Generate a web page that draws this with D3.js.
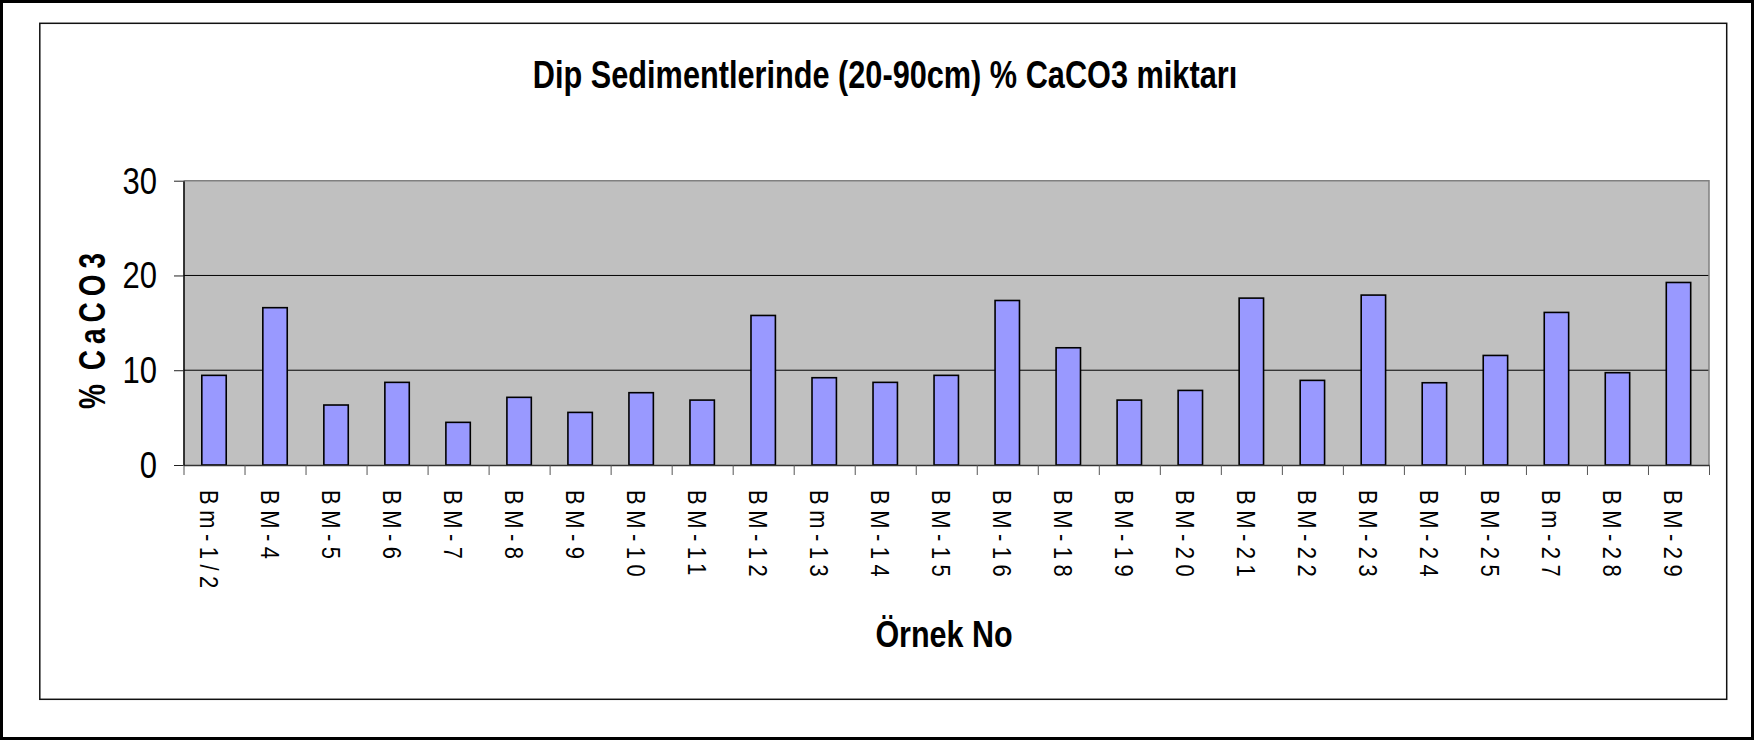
<!DOCTYPE html>
<html>
<head>
<meta charset="utf-8">
<script src="https://cdn.jsdelivr.net/npm/d3@7"></script>
<style>
  body { margin: 0; background: #fff; }
  svg { display: block; font-family: "Liberation Sans", Arial, sans-serif; }
</style>
</head>
<body>
<div id="chart"></div>
<script>
// Data
var samples = ["Bm-1/2", "BM-4", "BM-5", "BM-6", "BM-7", "BM-8", "BM-9", "BM-10", "BM-11", "BM-12",
  "Bm-13", "BM-14", "BM-15", "BM-16", "BM-18", "BM-19", "BM-20", "BM-21", "BM-22", "BM-23",
  "BM-24", "BM-25", "Bm-27", "BM-28", "BM-29"];
var caco3 = [9.46, 16.6, 6.33, 8.72, 4.5, 7.14, 5.55, 7.63, 6.85, 15.78,
  9.21, 8.72, 9.46, 17.36, 12.37, 6.85, 7.87, 17.61, 8.93, 17.93,
  8.68, 11.56, 16.1, 9.74, 19.26];
var yTicks = [0, 10, 20, 30];
var chartTitle = "Dip Sedimentlerinde (20-90cm) % CaCO3 miktarı";
var xTitle = "Örnek No";
var yTitle = "% CaCO3";

// Set up the canvas
var svgWidth = 1754;
var svgHeight = 740;

var plot = { left: 183.5, right: 1709, top: 180.7, bottom: 465 };

var svg = d3.select("#chart")
  .append("svg")
  .attr("width", svgWidth)
  .attr("height", svgHeight);

// outer black border and inner chart frame
svg.append("rect")
  .attr("x", 1.5).attr("y", 1.5)
  .attr("width", svgWidth - 3).attr("height", svgHeight - 3)
  .attr("fill", "#fff")
  .attr("stroke", "#000")
  .attr("stroke-width", 3);

svg.append("rect")
  .attr("x", 39.8).attr("y", 23.3)
  .attr("width", 1726.7 - 39.8).attr("height", 699.3 - 23.3)
  .attr("fill", "none")
  .attr("stroke", "#111")
  .attr("stroke-width", 1.5);

// scales
var xBand = d3.scaleBand()
  .domain(samples)
  .range([plot.left, plot.right])
  .paddingInner(0.6)
  .paddingOuter(0.3);

var xSlots = d3.scaleLinear()
  .domain([0, samples.length])
  .range([plot.left, plot.right]);

var yLinearScale = d3.scaleLinear()
  .domain([0, 30])
  .range([plot.bottom, plot.top]);

// plot area background
svg.append("rect")
  .attr("x", plot.left).attr("y", plot.top)
  .attr("width", plot.right - plot.left)
  .attr("height", plot.bottom - plot.top)
  .attr("fill", "#c0c0c0");

// gridlines
svg.append("g")
  .selectAll("line")
  .data(yTicks.filter(d => d > 0 && d < 30))
  .enter()
  .append("line")
  .attr("x1", plot.left).attr("x2", plot.right)
  .attr("y1", d => yLinearScale(d)).attr("y2", d => yLinearScale(d))
  .attr("stroke", "#000")
  .attr("stroke-width", 1);

// plot border top and right (gray)
svg.append("path")
  .attr("d", `M${plot.left},${yLinearScale(30)}H${plot.right}V${plot.bottom}`)
  .attr("fill", "none")
  .attr("stroke", "#808080")
  .attr("stroke-width", 1.5);

// bars
svg.append("g")
  .selectAll("rect")
  .data(caco3)
  .enter()
  .append("rect")
  .attr("x", (d, i) => xBand(samples[i]))
  .attr("y", d => yLinearScale(d))
  .attr("width", xBand.bandwidth())
  .attr("height", d => yLinearScale(0) - yLinearScale(d))
  .attr("fill", "#9999ff")
  .attr("stroke", "#000")
  .attr("stroke-width", 1.6);

// x axis: ticks at category boundaries
var bottomAxis = d3.axisBottom(xSlots)
  .tickValues(d3.range(samples.length + 1))
  .tickFormat("")
  .tickSize(10)
  .tickSizeOuter(0);

var xAxis = svg.append("g")
  .attr("transform", `translate(0, ${plot.bottom})`)
  .call(bottomAxis);
xAxis.select(".domain").attr("stroke", "#333").attr("stroke-width", 1.5);
xAxis.selectAll(".tick line").attr("stroke", "#555");

// y axis
var leftAxis = d3.axisLeft(yLinearScale)
  .tickValues(yTicks)
  .tickFormat("")
  .tickSize(9.5)
  .tickSizeOuter(0);

var yAxis = svg.append("g")
  .attr("transform", `translate(${plot.left}, 0)`)
  .call(leftAxis);
yAxis.select(".domain").attr("stroke", "#000").attr("stroke-width", 1.5);
yAxis.selectAll(".tick line").attr("stroke", "#222");

// y tick labels (stretched tall like the original)
svg.append("g")
  .selectAll("text")
  .data(yTicks)
  .enter()
  .append("text")
  .attr("transform", d => `translate(157, ${yLinearScale(d) + 13}) scale(1, 1.17)`)
  .attr("text-anchor", "end")
  .attr("font-size", "31px")
  .attr("fill", "#000")
  .text(d => d);

// x tick labels, rotated to read top to bottom
svg.append("g")
  .selectAll("text")
  .data(samples)
  .enter()
  .append("text")
  .attr("transform", d => `translate(${xBand(d) + xBand.bandwidth() / 2 - 14.5}, 490) rotate(90) scale(1, 1.15)`)
  .attr("font-size", "22px")
  .attr("letter-spacing", "5.5px")
  .attr("fill", "#000")
  .text(d => d);

// chart title
svg.append("text")
  .attr("transform", "translate(885, 88.3) scale(1, 1.26)")
  .attr("text-anchor", "middle")
  .attr("font-size", "30.7px")
  .attr("font-weight", "bold")
  .text(chartTitle);

// x axis title
svg.append("text")
  .attr("transform", "translate(944, 646.7) scale(1, 1.19)")
  .attr("text-anchor", "middle")
  .attr("font-size", "30.5px")
  .attr("font-weight", "bold")
  .text(xTitle);

// y axis title
svg.append("text")
  .attr("transform", "translate(105, 328) rotate(-90) scale(1, 1.3)")
  .attr("text-anchor", "middle")
  .attr("font-size", "28px")
  .attr("font-weight", "bold")
  .attr("letter-spacing", "6px")
  .attr("word-spacing", "-6px")
  .text(yTitle);
</script>
</body>
</html>
